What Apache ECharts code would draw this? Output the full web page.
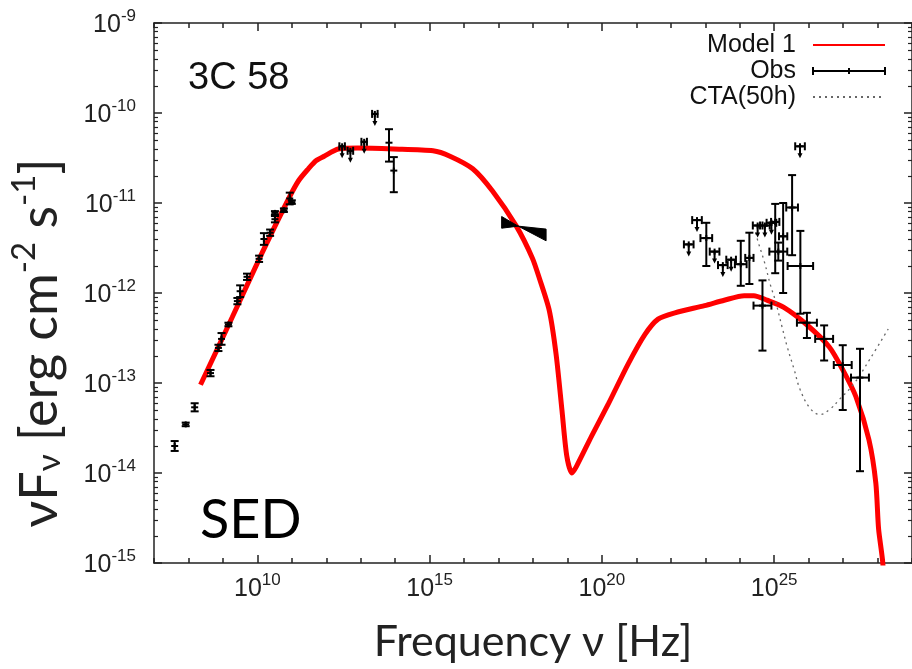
<!DOCTYPE html>
<html><head><meta charset="utf-8">
<script src="https://cdn.jsdelivr.net/npm/echarts@6/dist/echarts.min.js"></script>
<style>html,body{margin:0;padding:0;background:#fff}#c{width:912px;height:669px}</style>
</head><body><div id="c"></div>
<script>
// axis ranges (log10 units)
const xMin = 7, xMax = 29, yMin = -15, yMax = -9;
const xMajorTicks = [10, 15, 20, 25];
const xLabelExps = [10, 15, 20, 25];

// Model 1 curve: log10(nu/Hz), log10(nuFnu)
const modelLogNu = [8.35, 9.27, 10.13, 10.91, 11.20, 11.48, 11.70, 11.94, 12.35, 12.92, 13.95, 15.10, 15.59, 16.25, 16.83, 17.52, 17.98, 18.18, 18.47, 18.67, 18.84, 18.98, 19.13, 19.27, 19.70, 20.19, 20.76, 21.25, 21.63, 22.12, 22.98, 23.55, 24.13, 24.41, 24.79, 25.28, 25.94, 26.60, 27.00, 27.37, 27.75, 27.95, 28.03, 28.15, 28.20];
const modelLogFlux = [-13.02, -12.27, -11.56, -10.95, -10.75, -10.62, -10.53, -10.48, -10.40, -10.39, -10.40, -10.42, -10.48, -10.62, -10.87, -11.26, -11.61, -11.83, -12.19, -12.68, -13.30, -13.81, -14.00, -13.92, -13.59, -13.23, -12.79, -12.46, -12.29, -12.22, -12.14, -12.08, -12.03, -12.03, -12.08, -12.16, -12.35, -12.60, -12.86, -13.15, -13.63, -14.11, -14.62, -14.99, -15.40];

// CTA(50h) sensitivity
const ctaLogNu = [24.46, 24.54, 24.72, 24.89, 25.03, 25.23, 25.38, 25.58, 25.75, 26.04, 26.33, 26.62, 26.90, 27.31, 27.77, 28.31];
const ctaLogFlux = [-11.33, -11.44, -11.66, -11.91, -12.08, -12.38, -12.60, -12.85, -13.07, -13.28, -13.35, -13.29, -13.18, -13.01, -12.74, -12.40];

// Observations: [logNu, logFlux, xErr, yErrLow, yErrHigh, upperLimit]
const radioObs = [
  [7.60, -13.70, 0, 0.055, 0.055, 0],
  [7.92, -13.46, 0, 0.02, 0.02, 0],
  [8.18, -13.27, 0, 0.045, 0.045, 0],
  [8.64, -12.89, 0, 0.035, 0.035, 0],
  [8.87, -12.61, 0, 0.035, 0.035, 0],
  [8.96, -12.51, 0, 0.065, 0.065, 0],
  [9.16, -12.35, 0, 0.02, 0.02, 0],
  [9.42, -12.09, 0, 0.035, 0.035, 0],
  [9.50, -11.98, 0, 0.065, 0.065, 0],
  [9.70, -11.82, 0, 0.035, 0.035, 0],
  [10.05, -11.62, 0, 0.035, 0.035, 0],
  [10.19, -11.40, 0, 0.065, 0.065, 0],
  [10.37, -11.33, 0, 0.035, 0.035, 0],
  [10.51, -11.18, 0, 0.035, 0.035, 0],
  [10.51, -11.11, 0, 0.02, 0.02, 0],
  [10.77, -11.08, 0, 0.02, 0.02, 0],
  [10.94, -10.95, 0, 0.065, 0.065, 0],
  [11.00, -10.99, 0, 0.02, 0.02, 0]
];
const opticalObs = [
  [12.46, -10.37, 0.08, 0, 0, 1],
  [12.70, -10.42, 0.08, 0, 0, 1],
  [13.10, -10.32, 0.08, 0, 0, 1],
  [13.41, -10.01, 0.08, 0, 0, 1],
  [13.82, -10.33, 0, 0.21, 0.15, 0],
  [13.96, -10.64, 0, 0.24, 0.15, 0]
];
const gammaUL = [
  [22.52, -11.46, 0.14, 0, 0, 1],
  [22.76, -11.19, 0.14, 0, 0, 1],
  [23.27, -11.54, 0.14, 0, 0, 1],
  [23.51, -11.69, 0.14, 0, 0, 1],
  [23.75, -11.63, 0.14, 0, 0, 1],
  [24.52, -11.25, 0.14, 0, 0, 1],
  [24.73, -11.25, 0.14, 0, 0, 1],
  [24.92, -11.22, 0.14, 0, 0, 1],
  [25.75, -10.37, 0.14, 0, 0, 1]
];
const gammaObs = [
  [23.03, -11.39, 0.17, 0.31, 0.17, 0],
  [24.03, -11.68, 0.17, 0.24, 0.26, 0],
  [24.28, -11.61, 0.12, 0.29, 0.28, 0],
  [25.03, -11.21, 0.12, 0.57, 0.20, 0],
  [25.12, -11.54, 0.26, 0.10, 0.10, 0],
  [25.26, -11.37, 0.12, 0.63, 0.37, 0],
  [25.52, -11.05, 0.17, 0.53, 0.36, 0],
  [25.76, -11.70, 0.37, 0.53, 0.39, 0],
  [24.66, -12.14, 0.26, 0.50, 0.28, 0],
  [25.95, -12.33, 0.29, 0.17, 0.11, 0],
  [26.45, -12.51, 0.26, 0.24, 0.15, 0],
  [26.99, -12.80, 0.26, 0.50, 0.22, 0],
  [27.49, -12.94, 0.26, 1.04, 0.32, 0]
];

// X-ray bow-tie: logNu, upper and lower log flux
const bowtieLogNu = [17.09, 17.57, 18.38];
const bowtieHi = [-11.15, -11.257, -11.29];
const bowtieLo = [-11.28, -11.257, -11.42];

const yMinorTicks = [];
for (let n = yMin; n < yMax; n++) for (let k = 2; k <= 9; k++) yMinorTicks.push(n + Math.log10(k));

const zip = (a, b) => a.map((v, i) => [v, b[i]]);
const obsAll = radioObs.concat(opticalObs, gammaUL, gammaObs);

const AX = '#222';
const labelRich = {
  b: { fontFamily: 'Liberation Sans', fontSize: 25, color: '#222', lineHeight: 30, verticalAlign: 'bottom' },
  s: { fontFamily: 'Liberation Sans', fontSize: 17, color: '#222', lineHeight: 17, verticalAlign: 'top' }
};
const expFmt = v => '{b|10}{s|' + v + '}';

function seg(x1, y1, x2, y2, w) {
  return { type: 'line', shape: { x1, y1, x2, y2 }, style: { stroke: '#000', lineWidth: w || 2 } };
}
function renderObs(params, api) {
  const x = api.value(0), y = api.value(1), xe = api.value(2), ylo = api.value(3), yhi = api.value(4), ul = api.value(5);
  const c = api.coord([x, y]);
  const ch = [];
  const cap = 4;
  if (ylo > 0 || yhi > 0) {
    const t = api.coord([x, y + yhi])[1], b = api.coord([x, y - ylo])[1];
    ch.push(seg(c[0], t, c[0], b));
    ch.push(seg(c[0] - cap, t, c[0] + cap, t));
    ch.push(seg(c[0] - cap, b, c[0] + cap, b));
  }
  if (xe > 0) {
    const l = api.coord([x - xe, y])[0], r = api.coord([x + xe, y])[0];
    ch.push(seg(l, c[1], r, c[1]));
    ch.push(seg(l, c[1] - cap, l, c[1] + cap));
    ch.push(seg(r, c[1] - cap, r, c[1] + cap));
  }
  ch.push(seg(c[0] - 3.5, c[1], c[0] + 3.5, c[1]));
  ch.push(seg(c[0], c[1] - 3, c[0], c[1] + 3));
  if (ul) {
    ch.push(seg(c[0], c[1], c[0], c[1] + 9));
    ch.push({ type: 'polygon', shape: { points: [[c[0] - 2.5, c[1] + 7], [c[0] + 2.5, c[1] + 7], [c[0], c[1] + 12]] }, style: { fill: '#000' } });
  }
  return { type: 'group', children: ch };
}
function renderBowtie(params, api) {
  const up = bowtieLogNu.map((v, i) => api.coord([v, bowtieHi[i]]));
  const lo = bowtieLogNu.map((v, i) => api.coord([v, bowtieLo[i]])).reverse();
  return { type: 'polygon', shape: { points: up.concat(lo) }, style: { fill: '#000', stroke: '#000', lineWidth: 1 } };
}

const baseX = { type: 'value', min: xMin, max: xMax, splitLine: { show: false }, axisLine: { onZero: false } };
const baseY = { type: 'value', min: yMin, max: yMax, splitLine: { show: false }, axisLine: { onZero: false } };

const option = {
  backgroundColor: '#fff',
  animation: false,
  grid: { left: 151, right: -4, top: 23, bottom: 101, containLabel: false },
  xAxis: [
    Object.assign({}, baseX, {
      position: 'bottom',
      axisLine: { show: true, onZero: false, lineStyle: { color: AX, width: 1.5 } },
      axisTick: { show: true, inside: true, length: 8, customValues: xMajorTicks, lineStyle: { color: AX, width: 1.5 } },
      axisLabel: { customValues: xLabelExps, margin: 9, formatter: expFmt, rich: labelRich },
      name: 'Frequency ν [Hz]', nameLocation: 'middle', nameGap: 58,
      nameTextStyle: { fontFamily: 'Lato', fontSize: 43, color: '#222' }
    }),
    Object.assign({}, baseX, {
      position: 'bottom', interval: 1,
      axisLine: { show: false, onZero: false },
      axisTick: { show: true, inside: true, length: 5, lineStyle: { color: AX, width: 1.5 } },
      axisLabel: { show: false }
    }),
    Object.assign({}, baseX, {
      position: 'top',
      axisLine: { show: true, onZero: false, lineStyle: { color: AX, width: 1.5 } },
      axisTick: { show: true, inside: true, length: 8, customValues: xMajorTicks, lineStyle: { color: AX, width: 1.5 } },
      axisLabel: { show: false }
    }),
    Object.assign({}, baseX, {
      position: 'top', interval: 1,
      axisLine: { show: false, onZero: false },
      axisTick: { show: true, inside: true, length: 5, lineStyle: { color: AX, width: 1.5 } },
      axisLabel: { show: false }
    })
  ],
  yAxis: [
    Object.assign({}, baseY, {
      position: 'left', interval: 1,
      axisLine: { show: true, onZero: false, lineStyle: { color: AX, width: 1.5 } },
      axisTick: { show: true, inside: true, length: 8, lineStyle: { color: AX, width: 1.5 } },
      axisLabel: { margin: 18, formatter: expFmt, rich: labelRich },
      name: '{a|νF}{sub|ν}{a| [erg cm}{sup|-2}{a| s}{sup|-1}{a|]}',
      nameLocation: 'middle', nameGap: 88, nameRotate: 90,
      nameTextStyle: {
        padding: [0, 100, 0, 0],
        rich: {
          a: { fontFamily: 'Lato', fontSize: 52, color: '#222', lineHeight: 58, verticalAlign: 'bottom' },
          sub: { fontFamily: 'Lato', fontSize: 33, color: '#222', lineHeight: 29, verticalAlign: 'bottom' },
          sup: { fontFamily: 'Lato', fontSize: 33, color: '#222', lineHeight: 29, verticalAlign: 'top' }
        }
      }
    }),
    Object.assign({}, baseY, {
      position: 'left',
      axisLine: { show: false, onZero: false },
      axisTick: { show: true, inside: true, length: 4, customValues: yMinorTicks, lineStyle: { color: AX, width: 1.2 } },
      axisLabel: { show: false }
    }),
    Object.assign({}, baseY, {
      position: 'right', interval: 1,
      axisLine: { show: true, onZero: false, lineStyle: { color: AX, width: 1.5 } },
      axisTick: { show: true, inside: true, length: 8, lineStyle: { color: AX, width: 1.5 } },
      axisLabel: { show: false }
    }),
    Object.assign({}, baseY, {
      position: 'right',
      axisLine: { show: false, onZero: false },
      axisTick: { show: true, inside: true, length: 4, customValues: yMinorTicks, lineStyle: { color: AX, width: 1.2 } },
      axisLabel: { show: false }
    })
  ],
  legend: {
    orient: 'vertical', right: 26, top: 32, align: 'right', padding: 0,
    itemWidth: 72, itemHeight: 8, itemGap: 0, selectedMode: false,
    textStyle: { fontFamily: 'Liberation Sans', fontSize: 25, color: '#111', lineHeight: 26, padding: [0, 12, 0, 0] },
    data: [
      { name: 'Model 1', itemStyle: { color: 'rgba(0,0,0,0)', borderColor: 'rgba(0,0,0,0)', opacity: 0 } },
      { name: 'Obs', icon: 'path://M0,4H72M0,0V8M72,0V8M36,1V7', itemStyle: { color: 'rgba(0,0,0,0)', borderColor: '#000', borderWidth: 2 } },
      { name: 'CTA(50h)', itemStyle: { color: 'rgba(0,0,0,0)', borderColor: 'rgba(0,0,0,0)', opacity: 0 } }
    ]
  },
  graphic: [
    { type: 'text', x: 188, y: 79, style: { text: '3C 58', font: '38px "Liberation Sans"', fill: '#111', verticalAlign: 'middle' }, z: 10 },
    { type: 'text', x: 200, y: 521, style: { text: 'SED', font: '54px Lato', fill: '#000', verticalAlign: 'middle' }, z: 10 }
  ],
  series: [
    {
      name: 'Model 1', type: 'line', xAxisIndex: 0, yAxisIndex: 0,
      data: zip(modelLogNu, modelLogFlux), smooth: 0.25,
      symbol: 'none', clip: true, z: 2,
      lineStyle: { color: '#ff0000', width: 5 }, itemStyle: { color: '#ff0000' }
    },
    {
      name: 'CTA(50h)', type: 'line', xAxisIndex: 0, yAxisIndex: 0,
      data: zip(ctaLogNu, ctaLogFlux), smooth: 0.4, symbol: 'none', clip: true, z: 3,
      lineStyle: { color: '#666', width: 1.3, type: [2, 4] }, itemStyle: { color: '#666' }
    },
    {
      name: 'Obs', type: 'custom', xAxisIndex: 0, yAxisIndex: 0,
      data: obsAll, encode: { x: 0, y: 1 }, renderItem: renderObs, clip: true, z: 4,
      itemStyle: { color: '#000' }
    },
    {
      name: 'X-ray', type: 'custom', xAxisIndex: 0, yAxisIndex: 0,
      data: [[bowtieLogNu[1], bowtieHi[1]]], encode: { x: 0, y: 1 }, renderItem: renderBowtie, z: 4
    }
  ]
};
const chart = echarts.init(document.getElementById('c'), null, { renderer: 'canvas' });
chart.setOption(option);
</script>
</body></html>
